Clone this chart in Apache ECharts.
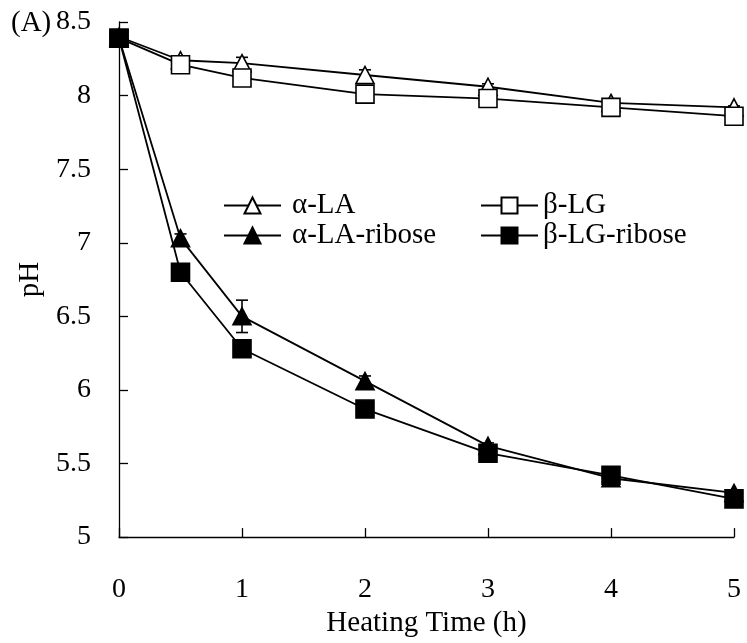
<!DOCTYPE html>
<html>
<head>
<meta charset="utf-8">
<script src="https://cdn.jsdelivr.net/npm/echarts@6/dist/echarts.min.js"></script>
<style>
html,body{margin:0;padding:0;background:#fff;}
#c{width:747px;height:643px;}
</style>
</head>
<body>
<div id="c"></div>
<script>
// Heating time (h)
var times = [0, 0.5, 1, 2, 3, 4, 5];
// pH values
var alphaLA       = [8.40, 8.24, 8.22, 8.14, 8.06, 7.95, 7.92];
var betaLG        = [8.39, 8.21, 8.12, 8.01, 7.98, 7.92, 7.86];
var alphaLARibose = [8.39, 7.03, 6.50, 6.06, 5.62, 5.40, 5.30];
var betaLGRibose  = [8.39, 6.80, 6.28, 5.87, 5.57, 5.42, 5.26];
// error bars (± pH)
var alphaLAErr       = [0, 0.01, 0.04, 0.035, 0.02, 0.01, 0.01];
var alphaLARiboseErr = [0, 0.03, 0.11, 0.035, 0.02, 0.01, 0.01];
var yTicks = ['5', '5.5', '6', '6.5', '7', '7.5', '8', '8.5'];

var FONT = '"Liberation Serif", "Times New Roman", serif';

function pairs(vals) { return times.map(function (t, i) { return [t, vals[i]]; }); }
function errData(vals, errs) {
  var out = [];
  times.forEach(function (t, i) { if (errs[i] > 0) out.push([t, vals[i], errs[i]]); });
  return out;
}
function errSeries(name, vals, errs) {
  return {
    type: 'custom', name: name + ' err', silent: true, z: 1,
    data: errData(vals, errs),
    renderItem: function (params, api) {
      var x = api.value(0), v = api.value(1), e = api.value(2);
      var hi = api.coord([x, v + e]);
      var lo = api.coord([x, v - e]);
      var w = 6;
      var st = { stroke: '#000', lineWidth: 1.6 };
      return {
        type: 'group',
        children: [
          { type: 'line', shape: { x1: hi[0], y1: hi[1], x2: lo[0], y2: lo[1] }, style: st },
          { type: 'line', shape: { x1: hi[0] - w, y1: hi[1], x2: hi[0] + w, y2: hi[1] }, style: st },
          { type: 'line', shape: { x1: lo[0] - w, y1: lo[1], x2: lo[0] + w, y2: lo[1] }, style: st }
        ]
      };
    }
  };
}
function lineSeries(name, vals, symbol, size, filled, z) {
  return {
    type: 'line', name: name, data: pairs(vals), z: z,
    symbol: symbol, symbolSize: size, showAllSymbol: true,
    lineStyle: { color: '#000', width: 1.8 },
    itemStyle: { color: filled ? '#000' : '#fff', borderColor: '#000', borderWidth: 1.6 },
    emphasis: { disabled: true },
    animation: false
  };
}

var chart = echarts.init(document.getElementById('c'));
function legendCfg(left, names, padLeft) {
  return {
    left: left, top: 191, data: names,
    orient: 'vertical', padding: 0, itemGap: 1, itemWidth: 57, itemHeight: 20,
    textStyle: { fontFamily: FONT, fontSize: 29, color: '#000', padding: [0, 0, 0, padLeft] },
    selectedMode: false
  };
}
chart.setOption({
  animation: false,
  backgroundColor: '#fff',
  grid: { left: 119, right: 13, top: 22, bottom: 100 },
  legend: [
    legendCfg(223, ['α-LA', 'α-LA-ribose'], 6),
    legendCfg(480, ['β-LG', 'β-LG-ribose'], 0)
  ],
  graphic: [{
    type: 'text', left: 11, top: 9,
    style: { text: '(A)', font: '29px ' + FONT, fill: '#000' }
  }],
  xAxis: {
    type: 'value', min: 0, max: 5, interval: 1,
    name: 'Heating Time (h)', nameLocation: 'middle', nameGap: 67,
    nameTextStyle: { fontFamily: FONT, fontSize: 29, color: '#000' },
    axisLine: { show: true, onZero: false, lineStyle: { color: '#000', width: 1.3 } },
    axisTick: { show: true, inside: true, length: 9, lineStyle: { color: '#000', width: 1.3 } },
    axisLabel: { fontFamily: FONT, fontSize: 28, color: '#000', margin: 39 },
    splitLine: { show: false }
  },
  yAxis: {
    type: 'value', min: 5, max: 8.5, interval: 0.5,
    name: 'pH', nameLocation: 'middle', nameGap: 69,
    nameTextStyle: { fontFamily: FONT, fontSize: 29, color: '#000' },
    axisLine: { show: true, lineStyle: { color: '#000', width: 1.3 } },
    axisTick: { show: true, inside: true, length: 9, lineStyle: { color: '#000', width: 1.3 } },
    axisLabel: {
      fontFamily: FONT, fontSize: 28, color: '#000', margin: 28,
      formatter: function (v) { var s = String(Math.round(v * 10) / 10); return yTicks.indexOf(s) >= 0 ? s : ''; }
    },
    splitLine: { show: false }
  },
  series: [
    errSeries('α-LA', alphaLA, alphaLAErr),
    errSeries('α-LA-ribose', alphaLARibose, alphaLARiboseErr),
    lineSeries('α-LA', alphaLA, 'triangle', [18, 17], false, 2),
    lineSeries('β-LG', betaLG, 'rect', 18, false, 3),
    lineSeries('α-LA-ribose', alphaLARibose, 'triangle', [18, 17], true, 4),
    lineSeries('β-LG-ribose', betaLGRibose, 'rect', 18, true, 5)
  ]
});
</script>
</body>
</html>
